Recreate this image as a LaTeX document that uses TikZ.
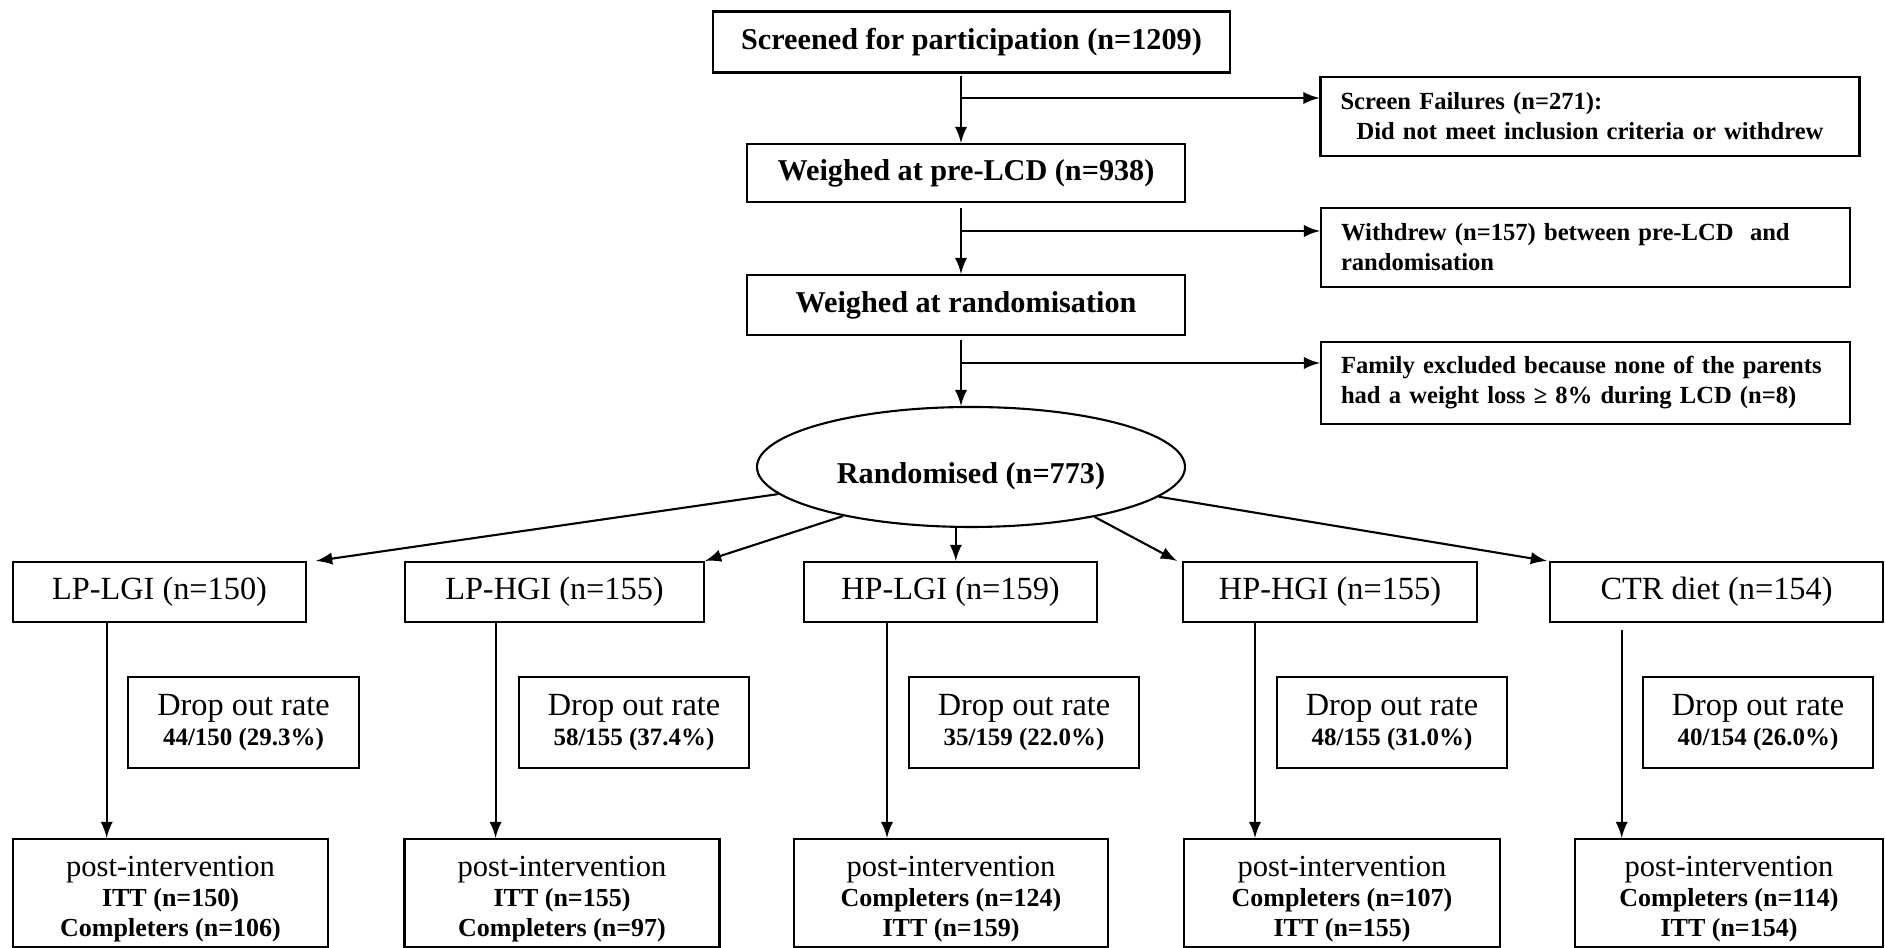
\documentclass[tikz,border=0pt]{standalone}
\usepackage{fontspec}
\setmainfont{Liberation Serif}
\usetikzlibrary{shapes.geometric}

\newcommand{\topfont}{\fontsize{8.6}{10}\selectfont\bfseries}
\newcommand{\sidefont}{\fontsize{7.0}{8.5}\selectfont\bfseries}
\newcommand{\armfont}{\fontsize{9.2}{8.5}\selectfont}
\newcommand{\postfont}{\fontsize{8.7}{8.5}\selectfont}
\newcommand{\numfont}{\fontsize{7.4}{8.5}\selectfont\bfseries}
\newcommand{\ratefont}{\fontsize{7.1}{8.5}\selectfont\bfseries}
\newcommand{\posthead}{\rule{0pt}{9.4pt}post-intervention}

\tikzset{
  box/.style={draw, semithick, inner sep=0pt, align=center},
  sidebox/.style={draw, semithick, inner xsep=0.2cm, inner ysep=0pt, align=left, font=\sidefont},
  postbox/.style={box, minimum height=1.08cm, font=\postfont},
}

\begin{document}
\begin{tikzpicture}[>=latex, semithick]
  \useasboundingbox (0,0) rectangle (18.85,9.48);

  % screening
  \node[box, minimum width=5.17cm, minimum height=0.61cm, font=\topfont] (screen) at (9.715,9.06) {Screened for participation (n=1209)};
  \node[box, minimum width=4.38cm, minimum height=0.58cm, font=\topfont] (prelcd) at (9.66,7.75) {Weighed at pre-LCD (n=938)};
  \node[box, minimum width=4.38cm, minimum height=0.60cm, font=\topfont] (randw) at (9.66,6.43) {Weighed at randomisation};
  \node[ellipse, draw, inner sep=0pt, minimum width=4.28cm, minimum height=1.20cm, font=\topfont] (rand) at (9.71,4.81) {\raisebox{-2.6pt}[\height][\depth]{Randomised (n=773)}};

  \node[sidebox, text width=4.99cm, minimum height=0.79cm] (fail) at (15.90,8.315) {Screen Failures (n=271):\\\hspace*{0.16cm}Did not meet inclusion criteria or withdrew};
  \node[sidebox, text width=4.89cm, minimum height=0.79cm] (withdrew) at (15.855,7.005) {Withdrew (n=157) between pre-LCD\ \ and\\randomisation};
  \node[sidebox, text width=4.89cm, minimum height=0.82cm] (family) at (15.855,5.65) {Family excluded because none of the parents\\had a weight loss ≥ 8\% during LCD (n=8)};

  \coordinate (s1) at (9.61,8.72);
  \coordinate (s2) at (9.61,7.40);
  \coordinate (s3) at (9.61,6.08);
  \coordinate (b1) at (9.61,8.50);
  \coordinate (b2) at (9.61,7.17);
  \coordinate (b3) at (9.61,5.85);

  \draw[->] (s1) -- (s1 |- prelcd.north);
  \draw[->] (s2) -- (s2 |- randw.north);
  \draw[->] (s3) -- (s3 |- rand.north);
  \draw[->] (b1) -- (b1 -| fail.west);
  \draw[->] (b2) -- (b2 -| withdrew.west);
  \draw[->] (b3) -- (b3 -| family.west);

  % diet groups
  \node[box, minimum width=2.93cm, minimum height=0.60cm, font=\armfont] (g1) at (1.595,3.56) {LP-LGI (n=150)};
  \node[box, minimum width=2.99cm, minimum height=0.60cm, font=\armfont] (g2) at (5.545,3.56) {LP-HGI (n=155)};
  \node[box, minimum width=2.93cm, minimum height=0.60cm, font=\armfont] (g3) at (9.505,3.56) {HP-LGI (n=159)};
  \node[box, minimum width=2.94cm, minimum height=0.60cm, font=\armfont] (g4) at (13.30,3.56) {HP-HGI (n=155)};
  \node[box, minimum width=3.33cm, minimum height=0.60cm, font=\armfont] (g5) at (17.165,3.56) {CTR diet (n=154)};

  \draw[->] (rand.188.6) -- ([xshift=0.9mm]g1.north east);
  \draw[->] (rand.201) -- (g2.north east);
  \draw[->] (rand.256) -- (rand.256 |- g3.north);
  \draw[->] (rand.338.7) -- ([xshift=-0.5mm]g4.north west);
  \draw[->] (rand.351.5) -- ([xshift=-0.2mm]g5.north west);

  % drop out
  \node[box, minimum width=2.31cm, minimum height=0.91cm, font=\armfont] (d1) at (2.435,2.255) {Drop out rate\\{\ratefont 44/150 (29.3\%)}};
  \node[box, minimum width=2.30cm, minimum height=0.91cm, font=\armfont] (d2) at (6.34,2.255) {Drop out rate\\{\ratefont 58/155 (37.4\%)}};
  \node[box, minimum width=2.30cm, minimum height=0.91cm, font=\armfont] (d3) at (10.24,2.255) {Drop out rate\\{\ratefont 35/159 (22.0\%)}};
  \node[box, minimum width=2.30cm, minimum height=0.91cm, font=\armfont] (d4) at (13.92,2.255) {Drop out rate\\{\ratefont 48/155 (31.0\%)}};
  \node[box, minimum width=2.30cm, minimum height=0.91cm, font=\armfont] (d5) at (17.58,2.255) {Drop out rate\\{\ratefont 40/154 (26.0\%)}};

  % post-intervention
  \node[postbox, minimum width=3.15cm] (p1) at (1.705,0.55) {\posthead\\{\numfont ITT (n=150)}\\{\numfont Completers (n=106)}};
  \node[postbox, minimum width=3.15cm] (p2) at (5.62,0.55) {\posthead\\{\numfont ITT (n=155)}\\{\numfont Completers (n=97)}};
  \node[postbox, minimum width=3.14cm] (p3) at (9.51,0.55) {\posthead\\{\numfont Completers (n=124)}\\{\numfont ITT (n=159)}};
  \node[postbox, minimum width=3.16cm] (p4) at (13.42,0.55) {\posthead\\{\numfont Completers (n=107)}\\{\numfont ITT (n=155)}};
  \node[postbox, minimum width=3.08cm] (p5) at (17.29,0.55) {\posthead\\{\numfont Completers (n=114)}\\{\numfont ITT (n=154)}};

  \coordinate (t1) at (1.067,3.26);
  \coordinate (t2) at (4.956,3.26);
  \coordinate (t3) at (8.87,3.26);
  \coordinate (t4) at (12.55,3.26);
  \coordinate (t5) at (16.217,3.18);

  \draw[->] (t1) -- (t1 |- p1.north);
  \draw[->] (t2) -- (t2 |- p2.north);
  \draw[->] (t3) -- (t3 |- p3.north);
  \draw[->] (t4) -- (t4 |- p4.north);
  \draw[->] (t5) -- (t5 |- p5.north);
\end{tikzpicture}
\end{document}
